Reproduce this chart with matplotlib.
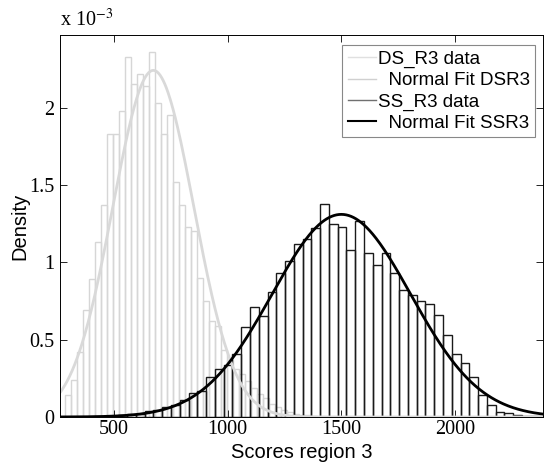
import numpy as np
import matplotlib
matplotlib.use('Agg')
import matplotlib.pyplot as plt
from matplotlib.lines import Line2D
from matplotlib.ticker import FuncFormatter

plt.rcParams['mathtext.fontset'] = 'stix'

# densities, in units of 1e-3
ds_start = 284.5
ds_width = 26.4
ds_dens = [0.14, 0.24, 0.42, 0.69, 0.89, 1.13, 1.37, 1.83, 1.83, 1.98,
           2.33, 2.15, 2.22, 2.14, 2.36, 2.03, 1.83, 1.95, 1.52, 1.37,
           1.23, 1.20, 0.90, 0.75, 0.62, 0.59, 0.43, 0.37, 0.31, 0.28,
           0.23, 0.19, 0.15, 0.12, 0.087, 0.065, 0.043, 0.032, 0.022, 0.015,
           0.01, 0.005]

ss_start = 480.4
ss_width = 38.6
ss_dens = [0.005, 0.015, 0.017, 0.02, 0.04, 0.045, 0.065, 0.08, 0.11, 0.155,
           0.17, 0.26, 0.31, 0.335, 0.41, 0.58,
           0.71, 0.65, 0.81, 0.93, 1.01, 1.12, 1.15, 1.22, 1.38, 1.25,
           1.23, 1.08, 1.27, 1.06, 0.98, 1.06, 0.93,
           0.82, 0.79, 0.75, 0.73, 0.66, 0.53, 0.41, 0.35, 0.26, 0.14,
           0.076, 0.035, 0.028, 0.01, 0.005, 0.004]

# normal fit parameters
ds_mu, ds_sigma = 673.0, 178.0
ss_mu, ss_sigma = 1500.0, 304.5

labels = ['DS_R3 data', '  Normal Fit DSR3', 'SS_R3 data', '  Normal Fit SSR3']

xlim = (262.5, 2387)
ylim = (0, 2.47e-3)

def normpdf(x, mu, s):
    return np.exp(-0.5 * ((x - mu) / s) ** 2) / (s * np.sqrt(2 * np.pi))

fig = plt.figure(figsize=(5.44, 4.63), dpi=100)
ax = fig.add_axes([60 / 544, 46 / 463, 483 / 544, 382 / 463])

ds_left = ds_start + ds_width * np.arange(len(ds_dens))
ss_left = ss_start + ss_width * np.arange(len(ss_dens))
xs = np.linspace(xlim[0], xlim[1], 600)

c_ds_bar = '#d6d6d6'
c_ds_fit = '#d9d9d9'

ax.bar(ds_left, np.array(ds_dens) * 1e-3, width=ds_width, align='edge',
       fill=False, edgecolor=c_ds_bar, linewidth=1.0)
ax.plot(xs, normpdf(xs, ds_mu, ds_sigma), color=c_ds_fit, linewidth=2)
ax.bar(ss_left, np.array(ss_dens) * 1e-3, width=ss_width, align='edge',
       fill=False, edgecolor='#1a1a1a', linewidth=1.0)
ax.plot(xs, normpdf(xs, ss_mu, ss_sigma), color='black', linewidth=2)

ax.set_xlim(xlim)
ax.set_ylim(ylim)
ax.set_xticks([500, 1000, 1500, 2000])
ax.set_yticks([0, 0.5e-3, 1e-3, 1.5e-3, 2e-3])
ax.yaxis.set_major_formatter(FuncFormatter(lambda v, p: '%g' % round(v * 1e3, 3)))
ax.tick_params(direction='in', top=True, right=True, length=5, width=0.6,
               labelsize=14.5)
ax.tick_params(axis='x', pad=2)
ax.tick_params(axis='y', pad=4)
for lab in ax.get_xticklabels() + ax.get_yticklabels():
    lab.set_family('Liberation Serif')
for sp in ax.spines.values():
    sp.set_linewidth(0.7)

ax.text(0, 1.01, r'x 10$^{-3}$', transform=ax.transAxes, fontsize=14.5,
        family='Liberation Serif', ha='left', va='bottom')

ax.set_xlabel('Scores region 3', fontsize=14.5, family='Liberation Sans', va='center')
ax.set_ylabel('Density', fontsize=14.5, family='Liberation Sans', va='center')
ax.xaxis.set_label_coords(0.5, -36 / 382)
ax.yaxis.set_label_coords(-40 / 483, 0.5)

handles = [Line2D([], [], color='#e0e0e0', linewidth=1),
           Line2D([], [], color='#d0d0d0', linewidth=1),
           Line2D([], [], color='#707070', linewidth=1),
           Line2D([], [], color='black', linewidth=1.5)]
leg = ax.legend(handles, labels, loc='upper right', bbox_to_anchor=(0.984, 0.974),
                borderaxespad=0, fancybox=False, framealpha=1, edgecolor='#888888',
                prop={'family': 'Liberation Sans', 'size': 13.5},
                handlelength=1.5, handletextpad=0.1, labelspacing=0.22, borderpad=0.3)
leg.get_frame().set_linewidth(0.8)

fig.savefig('out.png', dpi=100)
